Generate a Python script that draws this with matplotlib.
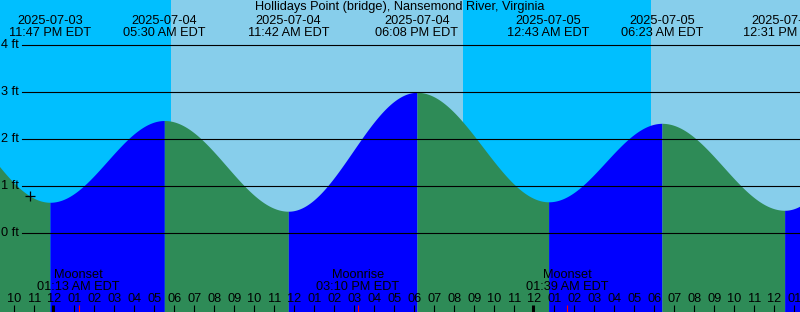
import numpy as np
import pandas as pd
import matplotlib
matplotlib.use("Agg")
import matplotlib.pyplot as plt
import matplotlib.transforms as mtransforms

plt.rcParams['font.family'] = ['Liberation Sans', 'DejaVu Sans']

# tide extremes (first and last are just outside the window)
tide_times = ["2025-07-03 17:25", "2025-07-03 23:47", "2025-07-04 05:30", "2025-07-04 11:42",
              "2025-07-04 18:08", "2025-07-05 00:43", "2025-07-05 06:23", "2025-07-05 12:31",
              "2025-07-05 18:50"]
tide_heights = [2.90, 0.66, 2.40, 0.47, 3.00, 0.67, 2.34, 0.49, 3.00]

# sun: daylight spans
sunrise_times = ["2025-07-04 05:50", "2025-07-05 05:49"]
sunset_times = ["2025-07-04 20:26"]

# moon events
moon_names = ["Moonset", "Moonrise", "Moonset"]
moon_times = ["2025-07-04 01:13", "2025-07-04 15:10", "2025-07-05 01:39"]

ft_levels = [0, 1, 2, 3, 4]
title = "Hollidays Point (bridge), Nansemond River, Virginia"
marker_time = "2025-07-03 22:47"
marker_height = 0.79

t0 = pd.Timestamp("2025-07-03 00:00")
def hrs(s):
    return (pd.Timestamp(s) - t0).total_seconds() / 3600.0

W, H = 800, 312
x_start = 22 - 14.3 / 20.0
x_end = x_start + 40.0
y_zero_px, px_per_ft = 233.3, 47.0
y_bot = -(H - y_zero_px) / px_per_ft
y_top = y_zero_px / px_per_ft

fig = plt.figure(figsize=(8, 3.12), dpi=100)
ax = fig.add_axes([0, 0, 1, 1])
ax.set_xlim(x_start, x_end)
ax.set_ylim(y_bot, y_top)
ax.axis('off')

night = '#00BFFF'
day = '#87CEEB'
flood = '#0000FF'
ebb = '#2E8B57'
fs = 9.2

# sky
edges = [x_start, hrs(sunrise_times[0]), hrs(sunset_times[0]), hrs(sunrise_times[1]), x_end]
for i in range(len(edges) - 1):
    ax.axvspan(edges[i], edges[i + 1], color=night if i % 2 == 0 else day, lw=0, zorder=0)

# tide curve between extremes
th = [hrs(s) for s in tide_times]
for i in range(len(th) - 1):
    t = np.linspace(th[i], th[i + 1], 200)
    f = (t - th[i]) / (th[i + 1] - th[i])
    h = tide_heights[i] + (tide_heights[i + 1] - tide_heights[i]) * (1 - np.cos(np.pi * f)) / 2
    col = flood if tide_heights[i + 1] > tide_heights[i] else ebb
    ax.fill_between(t, h, y_bot, color=col, lw=0, zorder=1)

# grid lines
x_grid0 = x_start + 22 / 20.0
for lv in ft_levels:
    ax.plot([x_grid0, x_end], [lv, lv], color='black', lw=0.8, zorder=2)
    ax.text(x_start + 1.5 / 20.0, lv, f"{lv} ft", fontsize=fs, va='center', ha='left', zorder=3)

trans = mtransforms.blended_transform_factory(ax.transData, ax.transAxes)
def py(p):
    return 1 - p / H

ax.text(0.5, py(10), title, transform=ax.transAxes, ha='center', va='baseline', fontsize=fs)

# extreme labels
for s in tide_times[1:-1]:
    ts = pd.Timestamp(s)
    x = hrs(s)
    ax.text(x, py(24), ts.strftime("%Y-%m-%d"), transform=trans, ha='center', va='baseline', fontsize=fs, zorder=4)
    ax.text(x, py(36), ts.strftime("%I:%M %p") + " EDT", transform=trans, ha='center', va='baseline', fontsize=fs, zorder=4)

# hour ticks
first_hour = int(np.ceil(x_start))
for hr in range(first_hour, int(x_end) + 1):
    lab = (t0 + pd.Timedelta(hours=hr)).strftime("%I")
    ax.text(hr, py(302), lab, transform=trans, ha='center', va='baseline', fontsize=fs, zorder=4)
    midnight = hr % 24 == 0
    ax.plot([hr - 0.07 if midnight else hr] * 2, [0, 7 / H], transform=trans, color='black',
            lw=2.2 if midnight else 0.8, solid_capstyle='butt', zorder=4)

# moon events
for name, s in zip(moon_names, moon_times):
    x = hrs(s)
    ts = pd.Timestamp(s)
    ax.plot([x, x], [0, 7 / H], transform=trans, color='red', lw=0.8, solid_capstyle='butt', zorder=4)
    ax.text(x, py(278), name, transform=trans, ha='center', va='baseline', fontsize=fs, zorder=4)
    ax.text(x, py(290), ts.strftime("%I:%M %p") + " EDT", transform=trans, ha='center', va='baseline', fontsize=fs, zorder=4)

ax.plot(hrs(marker_time), marker_height, marker='+', color='black', ms=7.5, mew=0.9, zorder=4)

fig.savefig('out.png', dpi=100)
